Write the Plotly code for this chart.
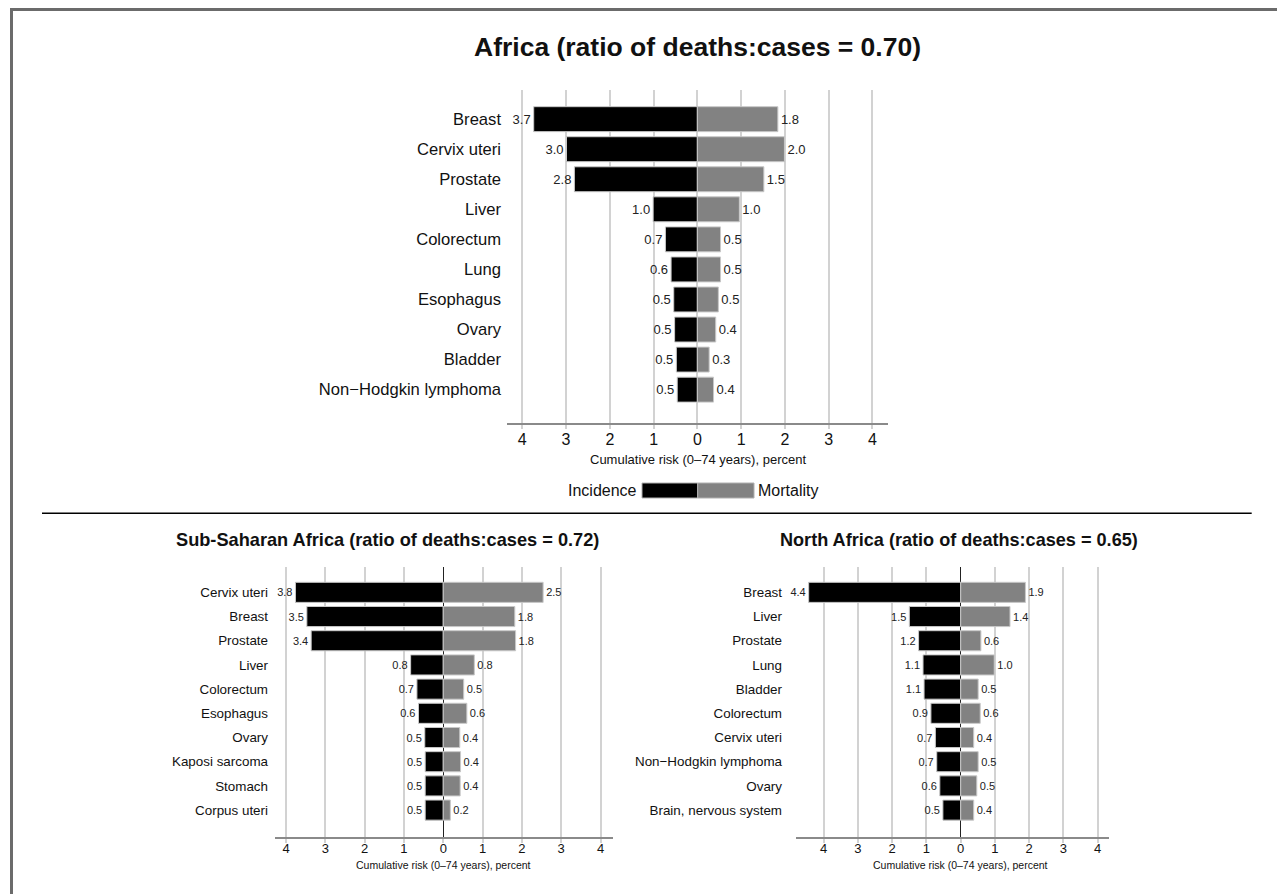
import plotly.graph_objects as go

# ---------------- data ----------------
cats_africa = ["Breast", "Cervix uteri", "Prostate", "Liver", "Colorectum", "Lung",
               "Esophagus", "Ovary", "Bladder", "Non\u2212Hodgkin lymphoma"]
inc_africa = [3.74, 2.99, 2.81, 1.01, 0.73, 0.60, 0.54, 0.52, 0.48, 0.46]
mort_africa = [1.84, 1.99, 1.52, 0.96, 0.53, 0.53, 0.48, 0.42, 0.27, 0.37]

cats_ssa = ["Cervix uteri", "Breast", "Prostate", "Liver", "Colorectum", "Esophagus",
            "Ovary", "Kaposi sarcoma", "Stomach", "Corpus uteri"]
inc_ssa = [3.76, 3.47, 3.36, 0.83, 0.67, 0.63, 0.47, 0.46, 0.46, 0.46]
mort_ssa = [2.54, 1.82, 1.84, 0.79, 0.52, 0.60, 0.42, 0.44, 0.43, 0.18]

cats_na = ["Breast", "Liver", "Prostate", "Lung", "Bladder", "Colorectum", "Cervix uteri",
           "Non\u2212Hodgkin lymphoma", "Ovary", "Brain, nervous system"]
inc_na = [4.44, 1.50, 1.23, 1.10, 1.07, 0.87, 0.74, 0.70, 0.61, 0.52]
mort_na = [1.89, 1.44, 0.59, 0.98, 0.51, 0.57, 0.38, 0.51, 0.47, 0.38]

titles = ["Africa (ratio of deaths:cases = 0.70)",
          "Sub-Saharan Africa (ratio of deaths:cases = 0.72)",
          "North Africa (ratio of deaths:cases = 0.65)"]
axis_title = "Cumulative risk (0\u201374 years), percent"
tick_vals = [-4, -3, -2, -1, 0, 1, 2, 3, 4]
tick_text = ["4", "3", "2", "1", "0", "1", "2", "3", "4"]
legend_labels = ["Incidence", "Mortality"]

# ---------------- style ----------------
W, H = 1277, 894
FONT = "Liberation Sans, Arial, sans-serif"
INC_COLOR = "#000000"
MORT_COLOR = "#828282"
GRID = "#d2d2d2"


def px(x):
    return x / W


def py(y):
    return 1 - y / H


panels = [
    dict(cats=cats_africa, inc=inc_africa, mort=mort_africa, xd=(507, 887.7), yd=(90, 422.7),
         xr=[-4.35, 4.35], yr=[10.1, -0.97], catsize=16.6, valsize=13, ticksize=16,
         zerocolor=GRID, zerowidth=1.5, ystand=5, xstand=-3),
    dict(cats=cats_ssa, inc=inc_ssa, mort=mort_ssa, xd=(275, 612.7), yd=(566.7, 836.7),
         xr=[-4.28, 4.31], yr=[10.1, -1.06], catsize=13.4, valsize=11, ticksize=13,
         zerocolor="#222222", zerowidth=1, ystand=6, xstand=-5),
    dict(cats=cats_na, inc=inc_na, mort=mort_na, xd=(796, 1109.3), yd=(566.7, 836.7),
         xr=[-4.81, 4.34], yr=[10.1, -1.06], catsize=13.4, valsize=11, ticksize=13,
         zerocolor="#222222", zerowidth=1, ystand=13, xstand=-5),
]

fig = go.Figure()
layout = {}
for i, p in enumerate(panels):
    sfx = "" if i == 0 else str(i + 1)
    xa, ya = "x" + sfx, "y" + sfx
    fig.add_trace(go.Bar(
        y=p["cats"], x=[-v for v in p["inc"]], orientation="h",
        xaxis=xa, yaxis=ya, marker=dict(color=INC_COLOR, line=dict(color="#c8c8c8", width=1)),
        text=[f"{v:.1f}" for v in p["inc"]], textposition="outside", constraintext="none",
        textfont=dict(size=p["valsize"], color="#222222", family=FONT), cliponaxis=False,
        name=legend_labels[0], showlegend=False))
    fig.add_trace(go.Bar(
        y=p["cats"], x=p["mort"], orientation="h",
        xaxis=xa, yaxis=ya, marker=dict(color=MORT_COLOR, line=dict(color="#c8c8c8", width=1)),
        text=[f"{v:.1f}" for v in p["mort"]], textposition="outside", constraintext="none",
        textfont=dict(size=p["valsize"], color="#222222", family=FONT), cliponaxis=False,
        name=legend_labels[1], showlegend=False))
    layout["xaxis" + sfx] = dict(
        domain=[px(p["xd"][0]), px(p["xd"][1])], anchor=ya, range=p["xr"],
        tickvals=tick_vals, ticktext=tick_text, showgrid=True, gridcolor=GRID, gridwidth=1.5,
        zeroline=True, zerolinecolor=p["zerocolor"], zerolinewidth=p["zerowidth"],
        showline=True, linecolor="#8a8a8a", linewidth=2, ticks="outside", ticklen=4,
        tickcolor=GRID, tickwidth=1.5, ticklabelstandoff=p["xstand"],
        tickfont=dict(size=p["ticksize"], color="#111111", family=FONT),
        fixedrange=True)
    layout["yaxis" + sfx] = dict(
        domain=[py(p["yd"][1]), py(p["yd"][0])], anchor=xa, type="category",
        categoryorder="array", categoryarray=p["cats"], range=p["yr"],
        showgrid=False, showline=False, zeroline=False, ticks="",
        ticklabelstandoff=p["ystand"],
        tickfont=dict(size=p["catsize"], color="#111111", family=FONT), fixedrange=True)

annotations = [
    dict(text="<b>%s</b>" % titles[0], x=px(697.5), y=py(47), font=dict(size=26.5)),
    dict(text="<b>%s</b>" % titles[1], x=px(387.5), y=py(540), font=dict(size=18.2)),
    dict(text="<b>%s</b>" % titles[2], x=px(959), y=py(540), font=dict(size=18.1)),
    dict(text=axis_title, x=px(697.7), y=py(459), font=dict(size=13)),
    dict(text=axis_title, x=px(443.3), y=py(865), font=dict(size=10.5)),
    dict(text=axis_title, x=px(960.7), y=py(865), font=dict(size=10.5)),
    dict(text=legend_labels[0], x=px(639), y=py(491), xanchor="right", font=dict(size=16)),
    dict(text=legend_labels[1], x=px(756), y=py(491), xanchor="left", font=dict(size=16)),
]
for a in annotations:
    a.update(xref="paper", yref="paper", showarrow=False)
    a.setdefault("xanchor", "center")
    a["yanchor"] = "middle"
    a["font"].update(family=FONT, color="#111111")

shapes = [
    # legend keys
    dict(type="rect", x0=px(642), x1=px(697.7), y0=py(498), y1=py(483),
         fillcolor=INC_COLOR, line=dict(color="#b0b0b0", width=1)),
    dict(type="rect", x0=px(697.7), x1=px(754), y0=py(498), y1=py(483),
         fillcolor=MORT_COLOR, line=dict(color="#b0b0b0", width=1)),
    # separator
    dict(type="line", x0=px(42), x1=px(1251.7), y0=py(513.3), y1=py(513.3),
         line=dict(color="#000000", width=1.5)),
    # frame (top and left)
    dict(type="line", x0=px(10), x1=px(1285), y0=py(9.5), y1=py(9.5),
         line=dict(color="#6b6b6b", width=3)),
    dict(type="line", x0=px(11.5), x1=px(11.5), y0=py(8), y1=py(900),
         line=dict(color="#6b6b6b", width=3)),
]
for s in shapes:
    s.update(xref="paper", yref="paper", layer="above")

fig.update_layout(
    width=W, height=H, margin=dict(l=0, r=0, t=0, b=0),
    paper_bgcolor="white", plot_bgcolor="white",
    barmode="overlay", bargap=0.17,
    font=dict(family=FONT, color="#111111"),
    annotations=annotations, shapes=shapes, showlegend=False,
    **layout)

fig.write_html("out.html", config={"displayModeBar": False},
               post_script="document.body.style.margin='0px';document.body.style.overflow='hidden';")
